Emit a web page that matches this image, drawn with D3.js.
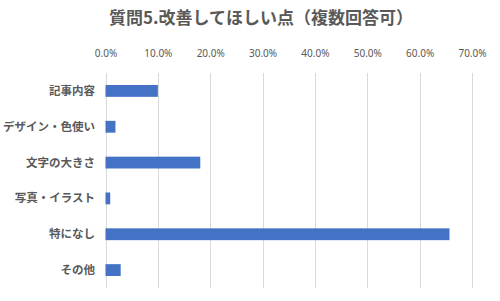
<!DOCTYPE html>
<html>
<head>
<meta charset="utf-8">
<script src="https://cdn.jsdelivr.net/npm/d3@7"></script>
<style>
  body { margin: 0; background: #fff; }
  text { font-family: "Noto Sans CJK JP", "Noto Sans", sans-serif; }
</style>
</head>
<body>
<div id="chart"></div>
<script>
// chart data
const categories = ["記事内容", "デザイン・色使い", "文字の大きさ", "写真・イラスト", "特になし", "その他"];
const values = [0.100, 0.019, 0.181, 0.009, 0.657, 0.029];
const ticks = [0, 0.1, 0.2, 0.3, 0.4, 0.5, 0.6, 0.7];
const title = "質問5.改善してほしい点（複数回答可）";

const width = 500;
const height = 301;
const margin = { top: 73, right: 28, bottom: 13, left: 105.5 };

const svg = d3.select("#chart")
    .append("svg")
    .attr("width", width)
    .attr("height", height);

const x = d3.scaleLinear()
    .domain([0, 0.7])
    .range([margin.left, width - margin.right]);

const y = d3.scaleBand()
    .domain(categories)
    .range([margin.top, height - margin.bottom])
    .paddingInner(0.67)
    .paddingOuter(0.335);

// title
svg.append("text")
    .attr("x", 261)
    .attr("y", 24)
    .attr("text-anchor", "middle")
    .style("font-size", "17px")
    .style("font-weight", "bold")
    .style("fill", "#595959")
    .text(title);

// gridlines
svg.append("g")
    .selectAll("line")
    .data(ticks)
    .enter()
    .append("line")
    .attr("x1", d => Math.round(x(d)) + 0.5)
    .attr("x2", d => Math.round(x(d)) + 0.5)
    .attr("y1", margin.top)
    .attr("y2", height - margin.bottom)
    .attr("stroke", "#d9d9d9")
    .attr("stroke-width", 1);

// top axis labels
const xAxis = svg.append("g")
    .attr("transform", `translate(0, ${margin.top - 13})`)
    .call(d3.axisTop(x).tickValues(ticks).tickFormat(d3.format(".1%")).tickSize(0));
xAxis.select(".domain").remove();
xAxis.selectAll("text")
    .style("font-size", "10px")
    .style("fill", "#595959")
    .style("font-family", "\"Noto Sans\", sans-serif");

// bars
svg.selectAll("rect.bar")
    .data(values)
    .enter()
    .append("rect")
    .attr("class", "bar")
    .attr("x", x(0))
    .attr("y", (d, i) => y(categories[i]))
    .attr("width", d => x(d) - x(0))
    .attr("height", y.bandwidth())
    .attr("fill", "#4472c4");

// category labels
svg.selectAll("text.cat")
    .data(categories)
    .enter()
    .append("text")
    .attr("class", "cat")
    .attr("x", 95)
    .attr("y", d => y(d) + y.bandwidth() / 2)
    .attr("dy", "0.35em")
    .attr("text-anchor", "end")
    .style("font-size", "11.5px")
    .style("font-weight", "bold")
    .style("fill", "#595959")
    .text(d => d);
</script>
</body>
</html>
